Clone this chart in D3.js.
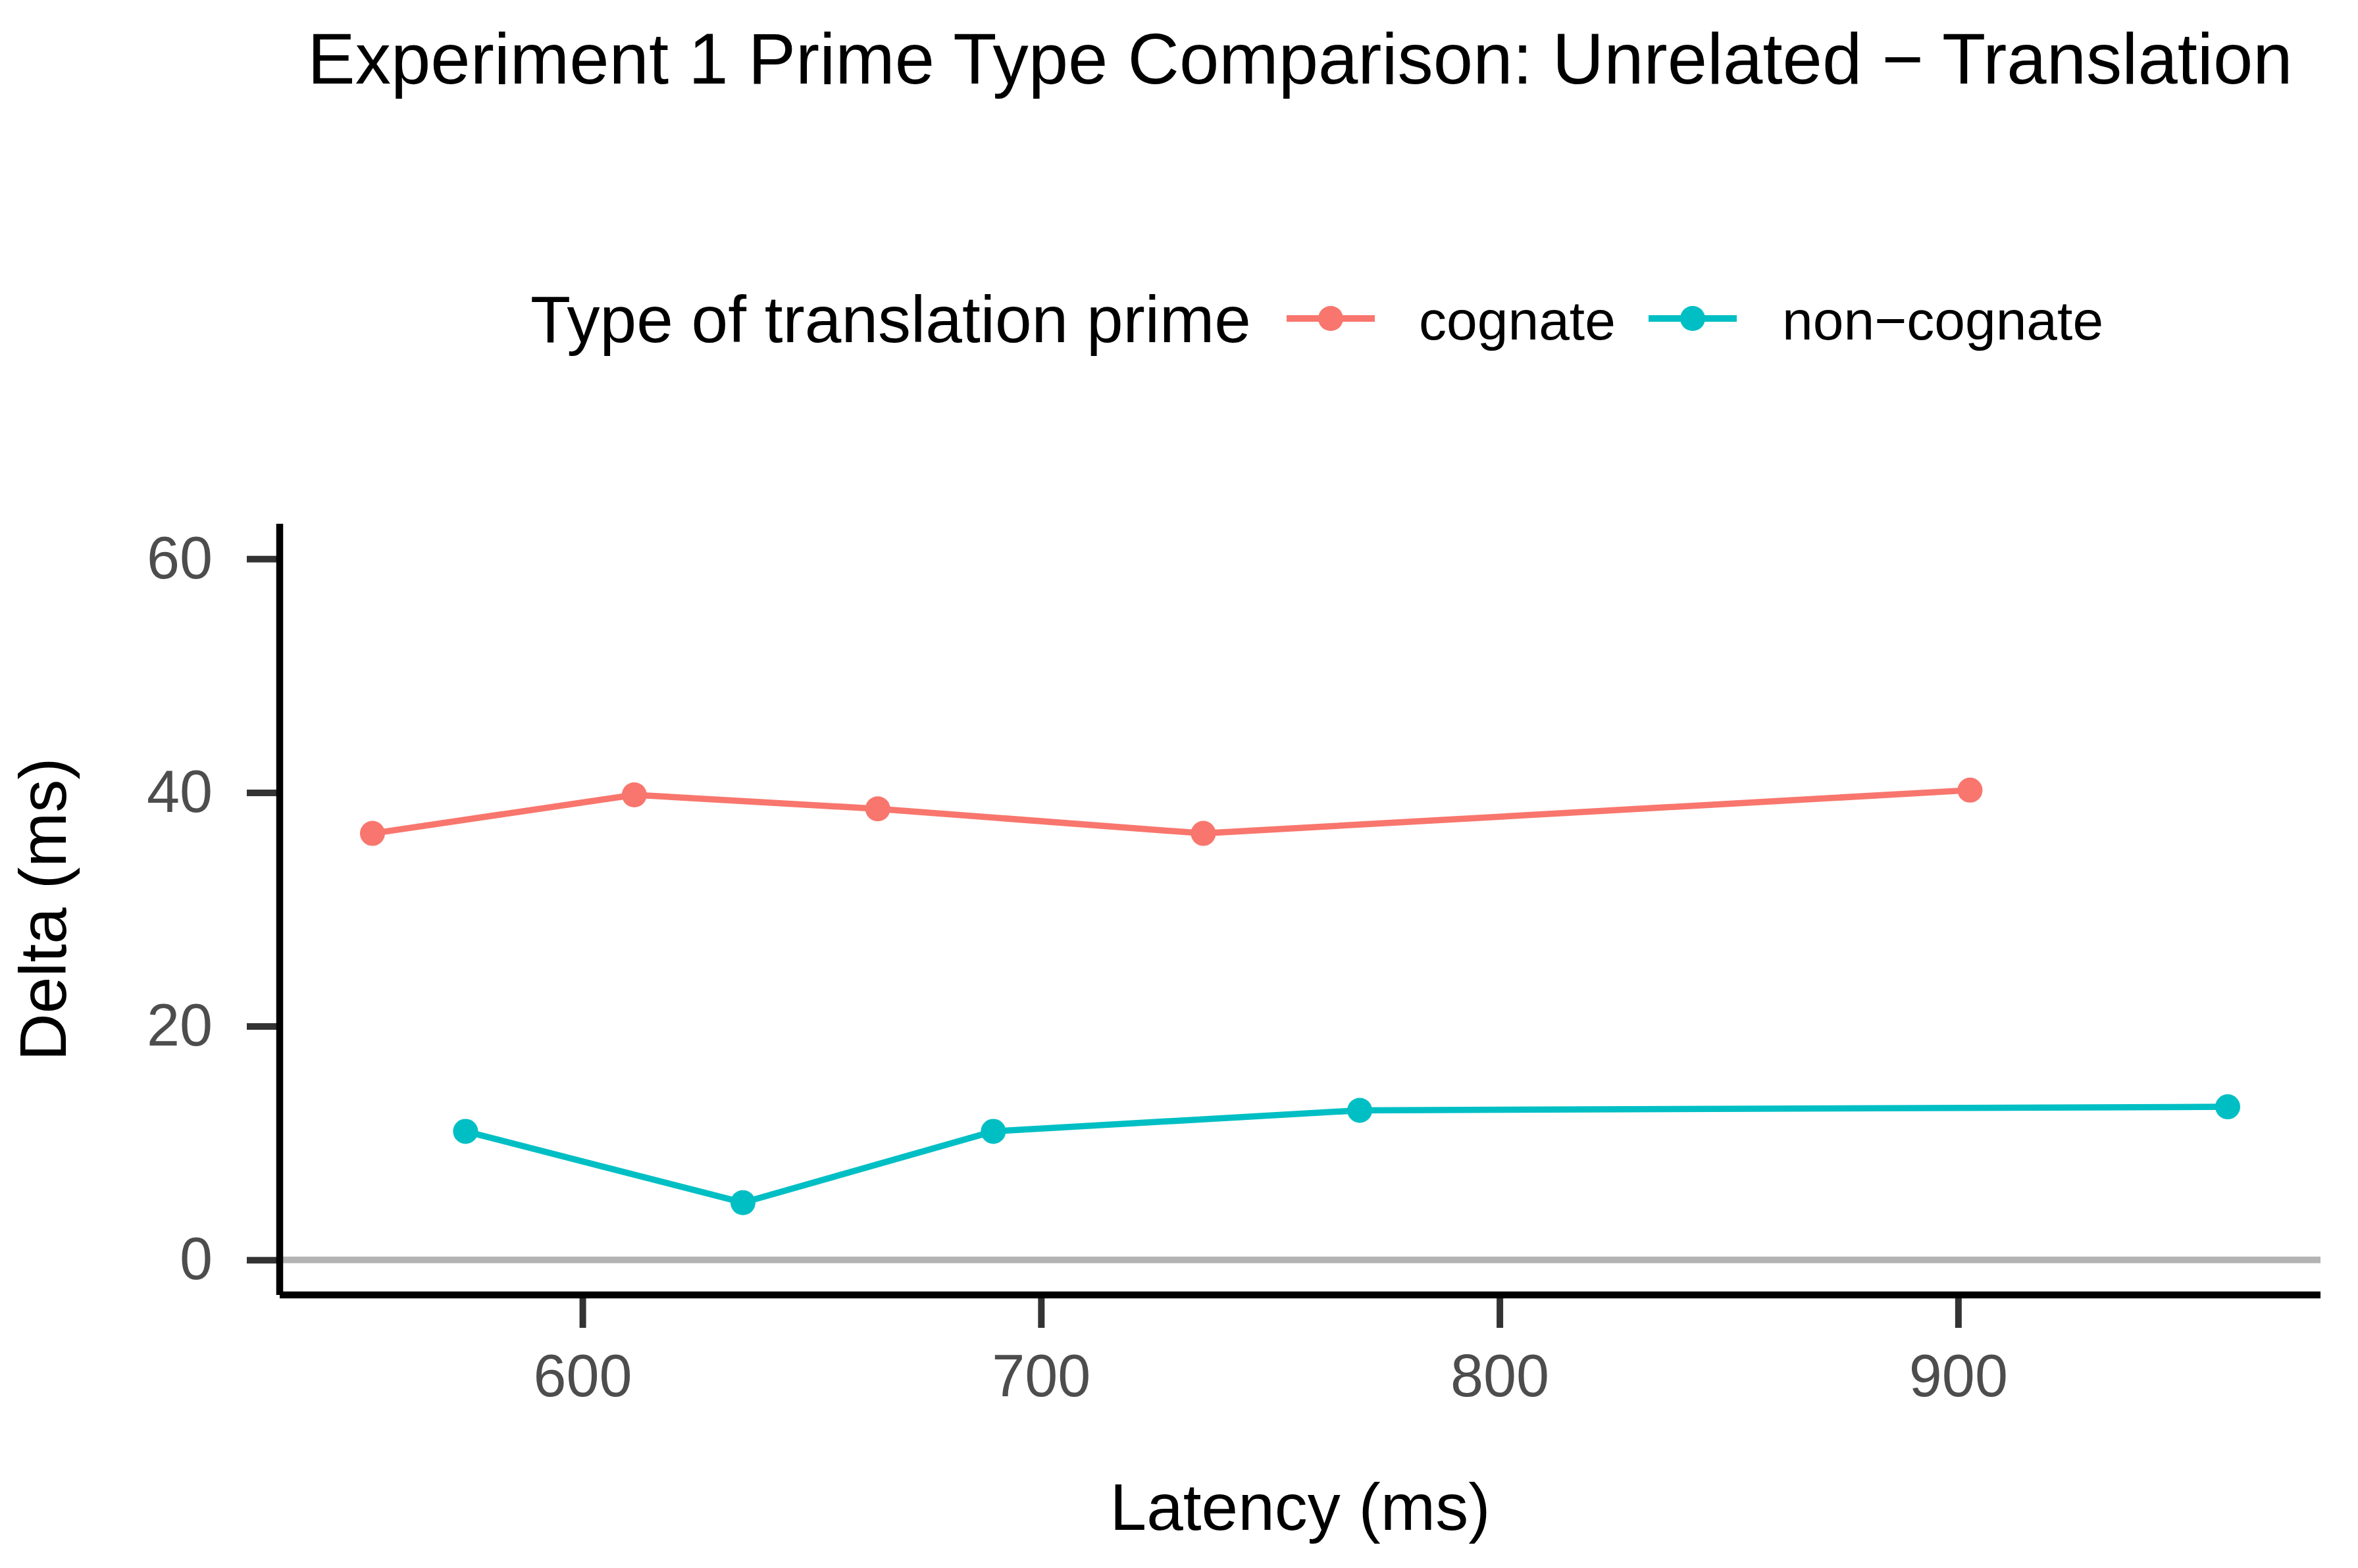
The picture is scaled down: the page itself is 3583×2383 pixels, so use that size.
<!DOCTYPE html>
<html>
<head>
<meta charset="utf-8">
<script src="https://cdn.jsdelivr.net/npm/d3@7"></script>
<style>
  html, body { margin: 0; padding: 0; background: #ffffff; }
  text { font-family: "Liberation Sans", Arial, Helvetica, sans-serif; }
</style>
</head>
<body>
<svg id="chart" width="3583" height="2383"></svg>
<script>
// ---- data ----
const titleText = "Experiment 1 Prime Type Comparison: Unrelated \u2212 Translation";
const xLabel = "Latency (ms)";
const yLabel = "Delta (ms)";
const legendTitle = "Type of translation prime";
const seriesNames = ["cognate", "non\u2212cognate"];
const seriesColors = ["#F8766D", "#00BFC4"];
const cognateLatency = [554.2, 611.3, 664.4, 735.4, 902.6];
const cognateDelta = [36.5, 39.8, 38.6, 36.5, 40.2];
const noncognateLatency = [574.5, 635.0, 689.6, 769.5, 958.8];
const noncognateDelta = [11.0, 4.9, 11.0, 12.8, 13.1];
const xTicks = [600, 700, 800, 900];
const yTicks = [0, 20, 40, 60];
const yLimits = [0, 60];

const series = [
  { name: seriesNames[0], color: seriesColors[0], pts: cognateLatency.map((x, i) => ({ x, y: cognateDelta[i] })) },
  { name: seriesNames[1], color: seriesColors[1], pts: noncognateLatency.map((x, i) => ({ x, y: noncognateDelta[i] })) }
];

// ---- layout ----
const panel = { left: 425, right: 3526, top: 796, bottom: 1968 };
const svg = d3.select("#chart");
svg.append("rect").attr("width", 3583).attr("height", 2383).attr("fill", "#ffffff");

const allX = cognateLatency.concat(noncognateLatency);
const [xmin, xmax] = d3.extent(allX);
const xpad = (xmax - xmin) * 0.05;
const x = d3.scaleLinear().domain([xmin - xpad, xmax + xpad]).range([panel.left, panel.right]);
const ypad = (yLimits[1] - yLimits[0]) * 0.05;
const y = d3.scaleLinear().domain([yLimits[0] - ypad, yLimits[1] + ypad]).range([panel.bottom, panel.top]);

// zero reference line
svg.append("line")
  .attr("x1", panel.left).attr("x2", panel.right)
  .attr("y1", y(0)).attr("y2", y(0))
  .attr("stroke", "#B3B3B3").attr("stroke-width", 10);

// data lines & points
const line = d3.line().x(d => x(d.x)).y(d => y(d.y));
series.forEach(s => {
  svg.append("path").datum(s.pts)
    .attr("d", line).attr("fill", "none")
    .attr("stroke", s.color).attr("stroke-width", 9.5)
    .attr("stroke-linejoin", "round");
  svg.selectAll(null).data(s.pts).enter().append("circle")
    .attr("cx", d => x(d.x)).attr("cy", d => y(d.y))
    .attr("r", 19).attr("fill", s.color);
});

// axes
const xAxis = d3.axisBottom(x).tickValues(xTicks).tickSize(50).tickPadding(40).tickSizeOuter(0);
const gx = svg.append("g").attr("transform", `translate(0,${panel.bottom})`).call(xAxis);
gx.select(".domain").remove();
gx.selectAll(".tick line").attr("stroke", "#333333").attr("stroke-width", 10);
gx.selectAll(".tick text").attr("fill", "#4D4D4D").attr("font-size", 90)
  .attr("font-family", "Liberation Sans, Arial, sans-serif");

const yAxis = d3.axisLeft(y).tickValues(yTicks).tickSize(50).tickPadding(52).tickSizeOuter(0);
const gy = svg.append("g").attr("transform", `translate(${panel.left},0)`).call(yAxis);
gy.select(".domain").remove();
gy.selectAll(".tick line").attr("stroke", "#333333").attr("stroke-width", 10);
gy.selectAll(".tick text").attr("fill", "#4D4D4D").attr("font-size", 90)
  .attr("font-family", "Liberation Sans, Arial, sans-serif");

// axis lines
svg.append("line").attr("x1", panel.left).attr("x2", panel.left)
  .attr("y1", panel.top).attr("y2", panel.bottom)
  .attr("stroke", "#000000").attr("stroke-width", 10.5);
svg.append("line").attr("x1", panel.left).attr("x2", panel.right)
  .attr("y1", panel.bottom).attr("y2", panel.bottom)
  .attr("stroke", "#000000").attr("stroke-width", 10.5);

// axis titles
svg.append("text").attr("x", (panel.left + panel.right) / 2).attr("y", 2325)
  .attr("text-anchor", "middle").attr("font-size", 100).attr("fill", "#000")
  .text(xLabel);
svg.append("text")
  .attr("transform", `translate(100,${(panel.top + panel.bottom) / 2}) rotate(-90)`)
  .attr("text-anchor", "middle").attr("font-size", 100).attr("fill", "#000")
  .text(yLabel);

// title
svg.append("text").attr("x", (panel.left + panel.right) / 2).attr("y", 127)
  .attr("text-anchor", "middle").attr("font-size", 108.5).attr("fill", "#000")
  .text(titleText);

// legend
const legY = 484;
svg.append("text").attr("x", 806).attr("y", 520)
  .attr("font-size", 100).attr("fill", "#000").text(legendTitle);
const keyStarts = [1955, 2505];
const labelStarts = [2156, 2708];
series.forEach((s, i) => {
  const k0 = keyStarts[i];
  svg.append("line").attr("x1", k0).attr("x2", k0 + 134)
    .attr("y1", legY).attr("y2", legY)
    .attr("stroke", s.color).attr("stroke-width", 10);
  svg.append("circle").attr("cx", k0 + 67).attr("cy", legY).attr("r", 19).attr("fill", s.color);
  svg.append("text").attr("x", labelStarts[i]).attr("y", 516)
    .attr("font-size", 84).attr("fill", "#000").text(s.name);
});
</script>
</body>
</html>
